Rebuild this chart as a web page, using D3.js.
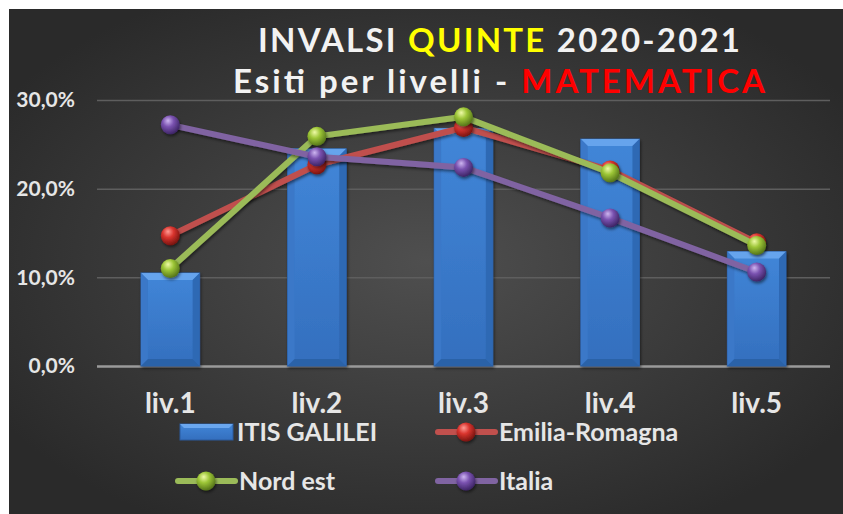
<!DOCTYPE html>
<html><head><meta charset="utf-8">
<script src="https://cdn.jsdelivr.net/npm/d3@7"></script>
<style>
html,body{margin:0;padding:0;background:#fff;}
svg{display:block;}
text{font-family:Lato,"Liberation Sans",sans-serif;font-weight:bold;}
</style></head>
<body>
<script>
const categories = ["liv.1","liv.2","liv.3","liv.4","liv.5"];
const itisGalilei = [0.105,0.245,0.268,0.256,0.129];
const emiliaRomagna = [0.147,0.227,0.269,0.221,0.139];
const nordEst = [0.110,0.259,0.281,0.218,0.136];
const italia = [0.272,0.236,0.224,0.167,0.106];
const yTicks = [0,0.1,0.2,0.3];
const yTickLabels = ["0,0%","10,0%","20,0%","30,0%"];
const lineSeries = [
  {name:"Emilia-Romagna", values:emiliaRomagna, line:"#c0504d", light:"#ff9b94", mid:"#d9342e", dark:"#7a1510"},
  {name:"Nord est", values:nordEst, line:"#9bbb59", light:"#eefaa6", mid:"#9cc536", dark:"#56751a"},
  {name:"Italia", values:italia, line:"#8064a2", light:"#cdb5f0", mid:"#7a52b0", dark:"#3e2566"}
];

const W=843,H=514;
const svg=d3.select("body").append("svg").attr("width",W).attr("height",H);
const defs=svg.append("defs");

const bg=defs.append("radialGradient").attr("id","bg").attr("cx","50%").attr("cy","50%").attr("r","60%");
bg.append("stop").attr("offset","0%").attr("stop-color","#4f4f4f");
bg.append("stop").attr("offset","100%").attr("stop-color","#2a2a2a");
svg.append("rect").attr("x",9).attr("y",9).attr("width",W-9).attr("height",H-9).attr("fill","url(#bg)");

const bar=defs.append("linearGradient").attr("id","barg").attr("x1","0").attr("x2","0").attr("y1","0").attr("y2","1");
bar.append("stop").attr("offset","0%").attr("stop-color","#4186d8");
bar.append("stop").attr("offset","100%").attr("stop-color","#346fbe");

const shadow=defs.append("filter").attr("id","sh").attr("x","-30%").attr("y","-30%").attr("width","160%").attr("height","160%");
shadow.append("feDropShadow").attr("dx",1).attr("dy",2).attr("stdDeviation",1.5).attr("flood-color","#000").attr("flood-opacity",0.5);

lineSeries.forEach((s,i)=>{
  const g=defs.append("radialGradient").attr("id","sp"+i).attr("cx","40%").attr("cy","35%").attr("r","65%").attr("fx","38%").attr("fy","28%");
  g.append("stop").attr("offset","0%").attr("stop-color",s.light);
  g.append("stop").attr("offset","45%").attr("stop-color",s.mid);
  g.append("stop").attr("offset","100%").attr("stop-color",s.dark);
});

const x=d3.scaleBand().domain(categories).range([97,830]);
const y=d3.scaleLinear().domain([0,0.3]).range([366,100]);
const cx=c=>x(c)+x.bandwidth()/2;
const barW=x.bandwidth()*0.40;

// grid
const yAxis=d3.axisLeft(y).tickValues(yTicks).tickSize(-(830-97)).tickFormat((d,i)=>yTickLabels[i]).tickPadding(22);
const ga=svg.append("g").attr("transform","translate(97,0)").call(yAxis);
ga.select(".domain").remove();
ga.selectAll(".tick line").attr("stroke","#5e5e5e").attr("stroke-width",1.5);
ga.selectAll(".tick").filter(d=>d===0).select("line").attr("stroke","#9a9a9a").attr("stroke-width",2.5);
ga.selectAll(".tick text").attr("fill","#e6e6e6").attr("font-size",21).attr("font-family","Lato,sans-serif").attr("font-weight","bold");

// bars
const bars=svg.append("g");
categories.forEach((c,i)=>{
  const x0=cx(c)-barW/2, x1=cx(c)+barW/2, y0=y(itisGalilei[i]), y1=y(0);
  const b=7;
  const g=bars.append("g").attr("filter","url(#sh)");
  g.append("rect").attr("x",x0).attr("y",y0).attr("width",barW).attr("height",y1-y0).attr("fill","url(#barg)").attr("stroke","#2a5b9e").attr("stroke-width",1);
  g.append("path").attr("d",`M${x0},${y0}L${x1},${y0}L${x1-b},${y0+b}L${x0+b},${y0+b}Z`).attr("fill","#6aa7ef").attr("opacity",0.9);
  g.append("path").attr("d",`M${x0},${y0}L${x0+b},${y0+b}L${x0+b},${y1-b}L${x0},${y1}Z`).attr("fill","#3a78c8");
  g.append("path").attr("d",`M${x1},${y0}L${x1-b},${y0+b}L${x1-b},${y1-b}L${x1},${y1}Z`).attr("fill","#2f69b4");
  g.append("path").attr("d",`M${x0},${y1}L${x0+b},${y1-b}L${x1-b},${y1-b}L${x1},${y1}Z`).attr("fill","#2c62a8");
});

// lines
const lineGen=d3.line().x((d,i)=>cx(categories[i])).y(d=>y(d));
lineSeries.forEach((s,i)=>{
  const g=svg.append("g");
  g.append("path").datum(s.values).attr("d",lineGen).attr("fill","none").attr("stroke",s.line).attr("stroke-width",6).attr("stroke-linejoin","round").attr("filter","url(#sh)");
  g.selectAll("circle").data(s.values).join("circle").attr("cx",(d,j)=>cx(categories[j])).attr("cy",d=>y(d)).attr("r",9.5).attr("fill","url(#sp"+i+")").attr("filter","url(#sh)");
});

// category labels
svg.append("g").selectAll("text").data(categories).join("text")
  .attr("x",d=>cx(d)).attr("y",413).attr("text-anchor","middle").attr("fill","#e6e6e6").attr("font-size",28).text(d=>d);

// title
const t1=svg.append("text").attr("x",499).attr("y",52).attr("text-anchor","middle").attr("font-size",33).attr("fill","#f2f2f2")
  .attr("textLength",482).attr("lengthAdjust","spacing");
t1.append("tspan").text("INVALSI ");
t1.append("tspan").attr("fill","#ffff00").text("QUINTE");
t1.append("tspan").text(" 2020-2021");
const t2=svg.append("text").attr("x",499).attr("y",93).attr("text-anchor","middle").attr("font-size",33).attr("fill","#f2f2f2")
  .attr("textLength",532).attr("lengthAdjust","spacing");
t2.append("tspan").text("Esiti per livelli - ");
t2.append("tspan").attr("fill","#ff0000").text("MATEMATICA");

// legend
const leg=svg.append("g");
const items=[{name:"ITIS GALILEI",type:"bar",x:180,y:432},
  {name:lineSeries[0].name,type:0,x:438,y:432},
  {name:lineSeries[1].name,type:1,x:178,y:481},
  {name:lineSeries[2].name,type:2,x:438,y:481}];
items.forEach(it=>{
  const g=leg.append("g");
  if(it.type==="bar"){
    const x0=it.x,x1=it.x+53,y0=it.y-8,y1=it.y+8,b=4;
    g.append("rect").attr("x",x0).attr("y",y0).attr("width",53).attr("height",16).attr("fill","url(#barg)").attr("stroke","#2a5b9e");
    g.append("path").attr("d",`M${x0},${y0}L${x1},${y0}L${x1-b},${y0+b}L${x0+b},${y0+b}Z`).attr("fill","#6aa7ef");
    g.append("text").attr("x",x1+4).attr("y",it.y+9).attr("fill","#e6e6e6").attr("font-size",25).text(it.name);
  } else {
    const s=lineSeries[it.type];
    g.append("line").attr("x1",it.x).attr("x2",it.x+57).attr("y1",it.y).attr("y2",it.y).attr("stroke",s.line).attr("stroke-width",6).attr("stroke-linecap","round");
    g.append("circle").attr("cx",it.x+28).attr("cy",it.y).attr("r",9.5).attr("fill","url(#sp"+it.type+")").attr("filter","url(#sh)");
    g.append("text").attr("x",it.x+61).attr("y",it.y+9).attr("fill","#e6e6e6").attr("font-size",25).text(s.name);
  }
});
</script>
</body></html>
